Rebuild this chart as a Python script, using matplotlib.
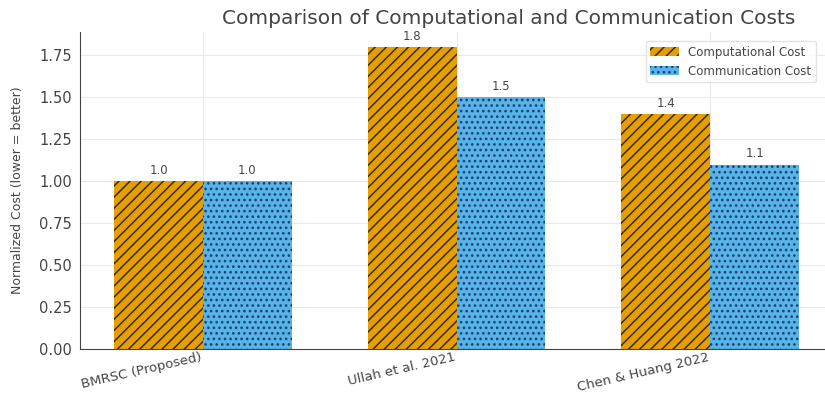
"""
plot.py: grouped bar chart comparing computational and communication costs
"""

import numpy as np
import matplotlib.pyplot as plt

schemes = ["BMRSC (Proposed)", "Ullah et al. 2021", "Chen & Huang 2022"]
computational_cost = [1.0, 1.8, 1.4]
communication_cost = [1.0, 1.5, 1.1]

plt.rcParams['font.family'] = ['DejaVu Sans']
plt.rcParams['hatch.linewidth'] = 1.1

fig = plt.figure(figsize=(8.25, 3.99), dpi=100)
ax = fig.add_axes([0.097, 0.125, 0.913, 0.795])

x = np.arange(len(schemes))
width = 0.35

bars1 = ax.bar(x - width / 2, computational_cost, width, color='#E69F00',
               edgecolor='#3a2a10', linewidth=0, hatch='///',
               label='Computational Cost', zorder=2)
bars2 = ax.bar(x + width / 2, communication_cost, width, color='#56B4E9',
               edgecolor='#1f3f6f', linewidth=0, hatch='...',
               label='Communication Cost', zorder=2)

# Value labels above bars
for bars in (bars1, bars2):
    for b in bars:
        ax.annotate(f"{b.get_height():.1f}",
                    xy=(b.get_x() + b.get_width() / 2, b.get_height()),
                    xytext=(0, 3), textcoords='offset points',
                    ha='center', va='bottom', fontsize=8.5, color='#444444')

# Title placed in figure coords to match the reference position
fig.text(509 / 825, 1 - 18 / 399,
         "Comparison of Computational and Communication Costs",
         ha='center', va='center', fontsize=14.5, color='#444444')

ax.set_ylabel("Normalized Cost (lower = better)", fontsize=9, color='#444444')
ax.yaxis.set_label_coords(-0.075, 0.5)
ax.set_xticks(x)
ax.set_xticklabels(schemes, rotation=13, ha='right', fontsize=9.5, color='#444444')
ax.tick_params(axis='y', labelsize=10.5, labelcolor='#444444', length=0, pad=6)
ax.tick_params(axis='x', length=0, pad=1)

ax.grid(True, color='#e8e8e8', linewidth=0.8, zorder=0)
ax.set_axisbelow(True)
for side in ('top', 'right'):
    ax.spines[side].set_visible(False)
for side in ('left', 'bottom'):
    ax.spines[side].set_color('#444444')

ax.legend(loc='upper right', fontsize=8.5, frameon=True, edgecolor='#dddddd',
          labelcolor='#444444', bbox_to_anchor=(0.985, 0.99), handlelength=2.4)

fig.savefig("out.png", dpi=100)
